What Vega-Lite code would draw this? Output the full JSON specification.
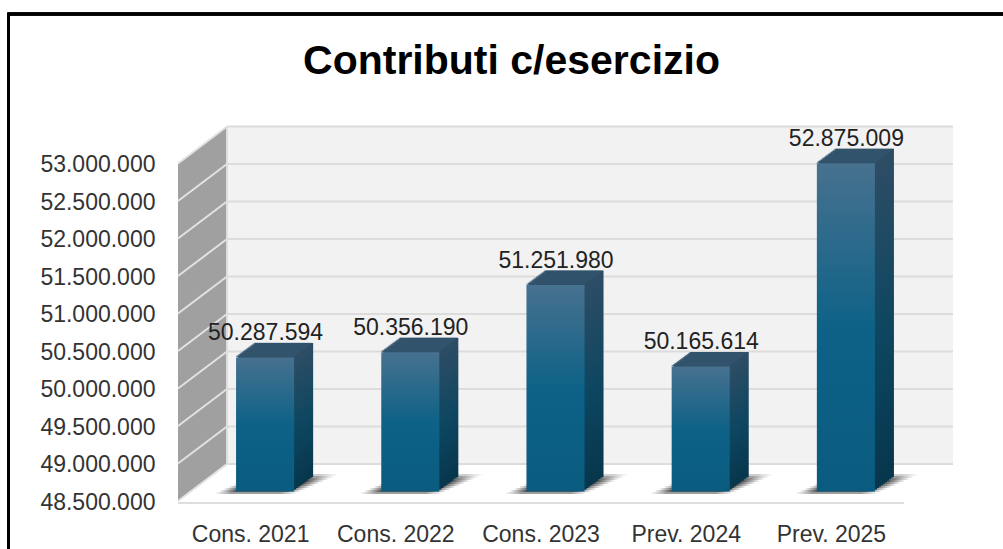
{
"$schema":"https://vega.github.io/schema/vega-lite/v6.json",
"width":775,"height":375,
"autosize":{"type":"none"},
"padding":{"left":178,"top":126,"right":50,"bottom":48},
"background":"white",
"config":{"view":{"stroke":null},"font":"Liberation Sans","axisY":{"domain":false,"ticks":false,"grid":false,"labelFont":"Liberation Sans","labelFontSize":23,"labelColor":"#333333","labelPadding":23,"labelOffset":1},"locale":{"number":{"decimal":",","thousands":".","grouping":[3],"currency":["","€"]}}},
"title":{"text":"Contributi c/esercizio","font":"Liberation Sans","fontSize":41,"fontWeight":"bold","color":"#000000","anchor":"middle","dx":-54,"offset":-70},
"datasets":{
"bars":[
{"periodo":"Cons. 2021","valore":50287594},
{"periodo":"Cons. 2022","valore":50356190},
{"periodo":"Cons. 2023","valore":51251980},
{"periodo":"Prev. 2024","valore":50165614},
{"periodo":"Prev. 2025","valore":52875009}],
"grid":[{"v":48500000},{"v":49000000},{"v":49500000},{"v":50000000},{"v":50500000},{"v":51000000},{"v":51500000},{"v":52000000},{"v":52500000},{"v":53000000}],
"wall":[{"d":0,"lo":48500000,"hi":53000000},{"d":0.0632,"lo":48993000,"hi":53493000}]
},
"resolve":{"scale":{"x":"independent"},"axis":{"x":"independent"}},
"layer":[
{"data":{"name":"wall"},
 "layer":[
 {"mark":{"type":"rect","color":"#f2f2f2"},"encoding":{"x":{"datum":0.0632,"type":"quantitative","scale":{"domain":[0,1],"range":[0,775],"nice":false,"zero":false},"axis":null},"x2":{"datum":1},"y":{"datum":53493000,"type":"quantitative","title":null,"scale":{"domain":[48500000,53500000],"nice":false,"zero":false},"axis":{"values":[48500000,49000000,49500000,50000000,50500000,51000000,51500000,52000000,52500000,53000000],"format":",d","title":null}},"y2":{"datum":48993000}}},
 {"mark":{"type":"area","color":"#a0a0a0"},"encoding":{"x":{"field":"d","type":"quantitative","axis":null},"y":{"field":"lo","type":"quantitative","title":null},"y2":{"field":"hi"}}}
 ]},
{"data":{"name":"grid"},
 "layer":[
 {"mark":{"type":"rule","color":"#dcdcdc","strokeWidth":2,"yOffset":-37},"encoding":{"x":{"datum":0.0632,"type":"quantitative","scale":{"domain":[0,1],"range":[0,775],"nice":false,"zero":false},"axis":null},"x2":{"datum":1},"y":{"field":"v","type":"quantitative","title":null}}},
 {"mark":{"type":"rule","color":"#e2e2e2","strokeWidth":2,"y2Offset":-37},"encoding":{"x":{"datum":0},"x2":{"datum":0.0632},"y":{"field":"v","type":"quantitative","title":null},"y2":{"field":"v"}}},
 {"mark":{"type":"rule","color":"#dedede","strokeWidth":2,"yOffset":2},"encoding":{"x":{"datum":0},"x2":{"datum":0.9368},"y":{"datum":48500000,"type":"quantitative","title":null}}},
 {"mark":{"type":"rule","color":"#dedede","strokeWidth":1.5},"encoding":{"x":{"datum":0.0632},"y":{"datum":53493000,"type":"quantitative","title":null},"y2":{"datum":48993000}}},
 {"mark":{"type":"rule","color":"#000000","strokeWidth":2.5},"encoding":{"x":{"datum":-0.219},"y":{"datum":54993000,"type":"quantitative","title":null},"y2":{"datum":47800000}}},
 {"mark":{"type":"rule","color":"#000000","strokeWidth":2.5},"encoding":{"x":{"datum":-0.22},"x2":{"datum":1.07},"y":{"datum":54993000,"type":"quantitative","title":null}}}
 ]},
{"data":{"name":"bars"},
 "encoding":{
  "x":{"field":"periodo","type":"nominal","sort":null,"scale":{"range":[0,726],"paddingInner":0.6,"paddingOuter":0.3},"axis":{"orient":"bottom","title":null,"domain":false,"ticks":false,"grid":false,"labelAngle":0,"labelFont":"Liberation Sans","labelFontSize":23,"labelColor":"#333333","labelPadding":22}},
  "y":{"field":"valore","type":"quantitative","stack":null,"title":null}
 },
 "layer":[
 {"encoding":{"y":{"datum":48500000,"type":"quantitative","title":null},
   "color":{"value":{"gradient":"linear","x1":0,"y1":0,"x2":1,"y2":0,"stops":[{"offset":0,"color":"rgba(60,60,60,0)"},{"offset":0.2,"color":"#3c3c3c"},{"offset":0.8,"color":"#3c3c3c"},{"offset":1,"color":"rgba(60,60,60,0)"}]}}},
  "layer":[
  {"mark":{"type":"tick","size":82,"thickness":2,"xOffset":5,"yOffset":-8,"opacity":0.5}},
  {"mark":{"type":"tick","size":82,"thickness":2,"xOffset":9.6,"yOffset":-10,"opacity":0.85}},
  {"mark":{"type":"tick","size":82,"thickness":2,"xOffset":14.2,"yOffset":-12,"opacity":0.95}},
  {"mark":{"type":"tick","size":82,"thickness":2,"xOffset":18.8,"yOffset":-14,"opacity":0.95}},
  {"mark":{"type":"tick","size":82,"thickness":2,"xOffset":23.4,"yOffset":-16,"opacity":0.95}},
  {"mark":{"type":"tick","size":82,"thickness":2,"xOffset":28,"yOffset":-18,"opacity":0.9}},
  {"mark":{"type":"tick","size":82,"thickness":2,"xOffset":32.6,"yOffset":-20,"opacity":0.85}},
  {"mark":{"type":"tick","size":82,"thickness":2,"xOffset":37.2,"yOffset":-22,"opacity":0.7}},
  {"mark":{"type":"tick","size":82,"thickness":2,"xOffset":41.8,"yOffset":-24,"opacity":0.5}},
  {"mark":{"type":"tick","size":82,"thickness":2,"xOffset":46.4,"yOffset":-26,"opacity":0.25}}
  ]},
 {"encoding":{"y2":{"datum":48500000},
   "color":{"value":{"gradient":"linear","x1":0,"y1":0,"x2":0,"y2":1,"stops":[{"offset":0,"color":"#2e4d65"},{"offset":0.55,"color":"#0d4660"},{"offset":1,"color":"#07364c"}]}}},
  "layer":[
  {"mark":{"type":"bar","xOffset":33.5,"yOffset":-24,"y2Offset":-24}},
  {"mark":{"type":"bar","xOffset":32.5,"yOffset":-23.3,"y2Offset":-23.3}},
  {"mark":{"type":"bar","xOffset":30.5,"yOffset":-21.8,"y2Offset":-21.8}},
  {"mark":{"type":"bar","xOffset":28.5,"yOffset":-20.3,"y2Offset":-20.3}},
  {"mark":{"type":"bar","xOffset":26.5,"yOffset":-18.8,"y2Offset":-18.8}},
  {"mark":{"type":"bar","xOffset":24.5,"yOffset":-17.4,"y2Offset":-17.4}},
  {"mark":{"type":"bar","xOffset":22.5,"yOffset":-15.9,"y2Offset":-15.9}},
  {"mark":{"type":"bar","xOffset":20.5,"yOffset":-14.4,"y2Offset":-14.4}},
  {"mark":{"type":"bar","xOffset":18.5,"yOffset":-12.9,"y2Offset":-12.9}},
  {"mark":{"type":"bar","xOffset":16.5,"yOffset":-11.5,"y2Offset":-11.5}}
  ]},
 {"encoding":{"color":{"value":"#34566f"}},
  "layer":[
  {"mark":{"type":"tick","size":58,"thickness":1.3,"xOffset":14.5,"yOffset":-10.5}},
  {"mark":{"type":"tick","size":58,"thickness":1.3,"xOffset":15.9,"yOffset":-11.5}},
  {"mark":{"type":"tick","size":58,"thickness":1.3,"xOffset":17.2,"yOffset":-12.5}},
  {"mark":{"type":"tick","size":58,"thickness":1.3,"xOffset":18.6,"yOffset":-13.5}},
  {"mark":{"type":"tick","size":58,"thickness":1.3,"xOffset":19.9,"yOffset":-14.5}},
  {"mark":{"type":"tick","size":58,"thickness":1.3,"xOffset":21.3,"yOffset":-15.5}},
  {"mark":{"type":"tick","size":58,"thickness":1.3,"xOffset":22.6,"yOffset":-16.5}},
  {"mark":{"type":"tick","size":58,"thickness":1.3,"xOffset":24,"yOffset":-17.5}},
  {"mark":{"type":"tick","size":58,"thickness":1.3,"xOffset":25.4,"yOffset":-18.5}},
  {"mark":{"type":"tick","size":58,"thickness":1.3,"xOffset":26.7,"yOffset":-19.5}},
  {"mark":{"type":"tick","size":58,"thickness":1.3,"xOffset":28.1,"yOffset":-20.5}},
  {"mark":{"type":"tick","size":58,"thickness":1.3,"xOffset":29.4,"yOffset":-21.5}},
  {"mark":{"type":"tick","size":58,"thickness":1.3,"xOffset":30.8,"yOffset":-22.5}},
  {"mark":{"type":"tick","size":58,"thickness":1.3,"xOffset":32.1,"yOffset":-23.5}}
  ]},
 {"mark":{"type":"bar","xOffset":14.5,"yOffset":-9.5,"y2Offset":-9.5},
  "encoding":{"y2":{"datum":48500000},
   "color":{"value":{"gradient":"linear","x1":0,"y1":0,"x2":0,"y2":1,"stops":[{"offset":0,"color":"#47718f"},{"offset":0.5,"color":"#0e6287"},{"offset":1,"color":"#0a5b80"}]}}}},
 {"mark":{"type":"text","font":"Liberation Sans","fontSize":23,"color":"#222222","baseline":"middle","xOffset":15,"yOffset":-34},
  "encoding":{"text":{"field":"valore","type":"quantitative","format":",d"}}}
 ]}
]
}
